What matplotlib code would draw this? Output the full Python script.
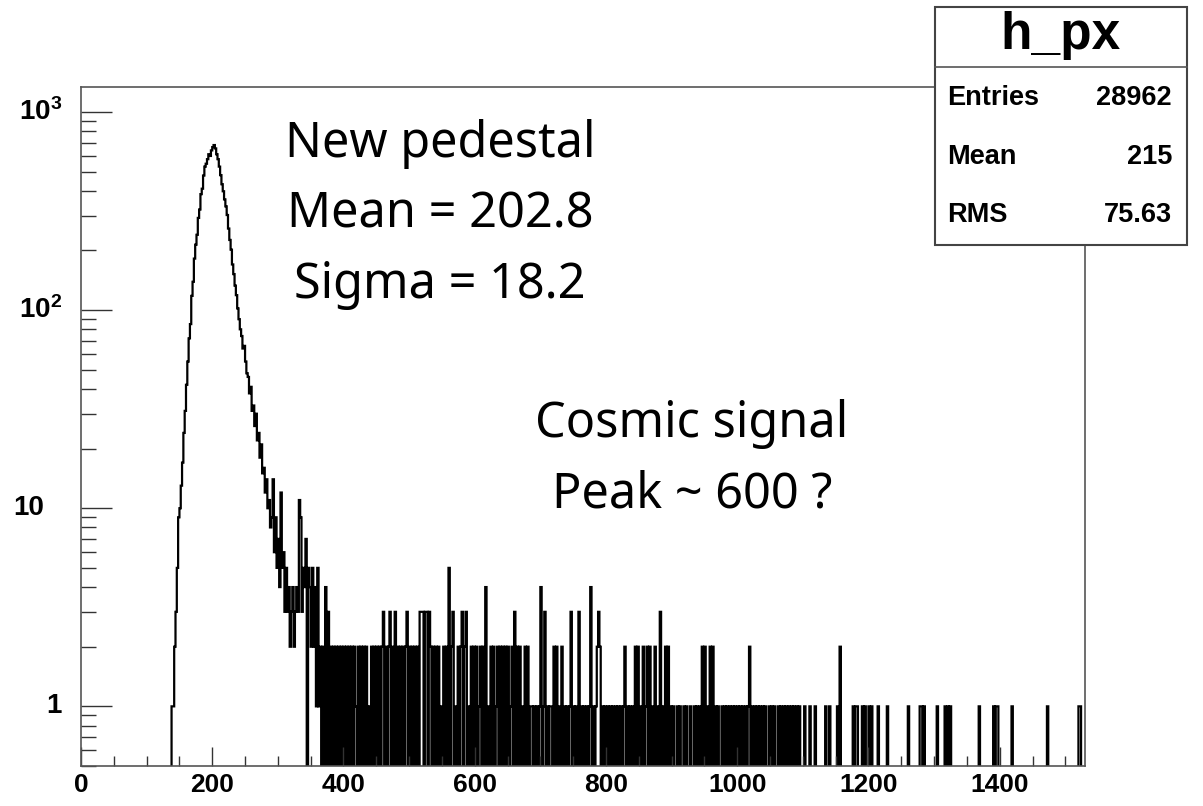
import numpy as np
import matplotlib
matplotlib.use('Agg')
import matplotlib.pyplot as plt
from matplotlib.patches import Rectangle
from matplotlib.ticker import MultipleLocator, LogLocator, NullFormatter
import matplotlib.transforms as mtransforms

plt.rcParams['mathtext.fontset'] = 'custom'
plt.rcParams['mathtext.rm'] = 'Liberation Sans'
plt.rcParams['mathtext.bf'] = 'Liberation Sans:bold'

# histogram h_px, 2-unit bins from 0 to 1530
bin_width = 2
x_max = 1530

# pedestal peak, bins 138 .. 318
peak_start = 138
peak_counts = [
    1, 1, 2, 3, 5, 9, 10, 13, 17, 24,
    31, 42, 55, 72, 85, 118, 139, 182, 214, 240,
    292, 322, 385, 410, 478, 530, 548, 578, 612, 600,
    640, 665, 681, 655, 612, 578, 530, 480, 432, 398,
    362, 334, 302, 258, 226, 202, 170, 152, 133, 119,
    102, 90, 80, 74, 64, 66, 55, 48, 46, 38,
    41, 31, 33, 26, 30, 22, 24, 18, 21, 15,
    16, 12, 14, 10, 11, 8, 9, 14, 6, 9,
    5, 7, 4, 12, 5, 6, 3, 5, 3, 4,
    2,
]

# dense tail, bins 320 .. 1118 (one row = 40 units)
tail_start = 320
tail_counts = [
    3, 4, 2, 3, 4, 3, 11, 9, 3, 5, 4, 7, 0, 5, 4, 2, 5, 2, 4, 1,
    5, 1, 2, 0, 2, 0, 4, 0, 3, 0, 2, 0, 2, 0, 2, 0, 2, 0, 2, 0,
    2, 0, 2, 0, 2, 0, 2, 0, 2, 1, 0, 2, 0, 2, 0, 2, 0, 2, 0, 1,
    0, 2, 0, 2, 0, 2, 0, 2, 0, 2, 3, 0, 2, 0, 2, 3, 0, 2, 0, 3,
    0, 2, 0, 2, 0, 2, 0, 2, 3, 0, 2, 0, 2, 0, 2, 0, 2, 0, 3, 3,
    3, 0, 3, 3, 0, 3, 2, 0, 2, 0, 2, 0, 2, 0, 1, 0, 2, 0, 2, 0,
    5, 0, 2, 3, 0, 1, 0, 2, 0, 2, 3, 0, 2, 3, 0, 1, 0, 2, 0, 2,
    0, 2, 0, 1, 2, 0, 2, 0, 4, 0, 1, 0, 2, 0, 2, 0, 1, 2, 0, 2,
    0, 2, 0, 2, 0, 2, 0, 1, 2, 0, 3, 0, 2, 0, 2, 0, 1, 0, 2, 0,
    2, 0, 1, 1, 0, 1, 0, 1, 0, 1, 4, 0, 1, 3, 0, 1, 0, 1, 1, 0,
    2, 0, 2, 0, 1, 0, 2, 0, 1, 0, 1, 0, 1, 3, 0, 1, 0, 1, 0, 3,
    0, 1, 0, 1, 0, 1, 0, 1, 4, 0, 1, 0, 1, 2, 3, 2, 0, 1, 0, 1,
    0, 1, 0, 1, 0, 1, 0, 1, 0, 1, 0, 1, 0, 1, 2, 0, 1, 0, 1, 0,
    1, 0, 2, 0, 2, 0, 1, 0, 2, 0, 1, 2, 0, 2, 0, 1, 0, 2, 0, 1,
    0, 3, 0, 1, 0, 2, 0, 2, 0, 1, 0, 1, 0, 0, 1, 0, 1, 0, 0, 1,
    0, 1, 0, 0, 1, 0, 0, 1, 0, 1, 0, 1, 0, 2, 0, 2, 0, 1, 0, 2,
    0, 2, 0, 1, 0, 1, 0, 0, 1, 0, 1, 0, 1, 0, 1, 0, 1, 0, 1, 0,
    1, 0, 1, 0, 1, 0, 1, 0, 1, 2, 0, 1, 0, 1, 0, 1, 0, 1, 0, 1,
    0, 1, 0, 0, 1, 0, 1, 0, 1, 0, 0, 1, 0, 1, 0, 1, 0, 1, 0, 1,
    0, 1, 0, 1, 0, 1, 0, 1, 0, 0, 0, 1, 0, 0, 0, 1, 0, 0, 0, 1,
]

# sparse far tail: bin start and count
far_tail_x = [1134, 1140, 1152, 1156, 1176, 1180, 1182, 1190, 1194, 1200,
              1204, 1214, 1228, 1260, 1278, 1280, 1284, 1304, 1316, 1320,
              1324, 1368, 1390, 1394, 1396, 1418, 1472, 1520, 1522]
far_tail_n = [1, 1, 1, 2, 1, 1, 1, 1, 1, 1,
              1, 1, 1, 1, 1, 1, 1, 1, 1, 1,
              1, 1, 1, 1, 1, 1, 1, 1, 1]

x_ticks = [0, 200, 400, 600, 800, 1000, 1200, 1400]
y_ticks = [1, 10, 100, 1000]
y_tick_labels = ['1', '10', r'$\mathbf{10^{2}}$', r'$\mathbf{10^{3}}$']

hist_name = 'h_px'
stats_names = ['Entries', 'Mean', 'RMS']
stats_values = ['28962', '215', '75.63']

notes_left = ['New pedestal', 'Mean = 202.8', 'Sigma = 18.2']
notes_right = ['Cosmic signal', 'Peak ~ 600 ?']

# build the histogram
edges = np.arange(0, x_max + bin_width, bin_width)
counts = np.zeros(len(edges) - 1)
i0 = peak_start // bin_width
counts[i0:i0 + len(peak_counts)] = peak_counts
i1 = tail_start // bin_width
counts[i1:i1 + len(tail_counts)] = tail_counts
for x, n in zip(far_tail_x, far_tail_n):
    counts[x // bin_width] = n
# empty bins drop below the frame, as ROOT draws them
draw_counts = np.where(counts > 0, counts, 0.05)

fig = plt.figure(figsize=(12.03, 8.06), dpi=100)
ax = fig.add_axes([81 / 1203, 40 / 806, 1004 / 1203, 679 / 806])
ax.stairs(draw_counts, edges, color='black', lw=1.6, baseline=None)

ax.set_yscale('log')
ax.set_xlim(0, x_max)
ax.set_ylim(0.5, 1337)

ax.set_xticks(x_ticks)
ax.set_xticklabels([str(v) for v in x_ticks], fontfamily='Liberation Sans',
                   fontweight='bold', fontsize=19)
ax.xaxis.set_minor_locator(MultipleLocator(50))
ax.set_yticks(y_ticks)
ax.set_yticklabels([])
ax.yaxis.set_minor_locator(LogLocator(base=10, subs=np.arange(2, 10)))
ax.yaxis.set_minor_formatter(NullFormatter())

ax.tick_params(axis='x', which='major', direction='in', length=14, width=1, pad=5, color='#333')
ax.tick_params(axis='x', which='minor', direction='in', length=7, width=1, color='#333')
ax.tick_params(axis='y', which='major', direction='in', length=22, width=1, color='#333')
ax.tick_params(axis='y', which='minor', direction='in', length=11, width=1, color='#333')
for s in ax.spines.values():
    s.set_color('#555')
    s.set_linewidth(1.2)

trans = mtransforms.blended_transform_factory(ax.transAxes, ax.transData)
label_right = [62, 44, 62, 62]
for v, lab, xr in zip(y_ticks, y_tick_labels, label_right):
    ax.text((xr - 81) / 1004, v, lab, transform=trans, ha='right', va='center',
            fontfamily='Liberation Sans', fontweight='bold', fontsize=20)

# stats box
bx0, bx1 = 935 / 1203, 1187 / 1203
by0, by1 = 1 - 245 / 806, 1 - 7 / 806
ydiv = 1 - 67 / 806
fig.patches.append(Rectangle((bx0, by0), bx1 - bx0, by1 - by0, transform=fig.transFigure,
                             facecolor='white', edgecolor='#444', lw=1.5, zorder=5))
fig.lines.append(plt.Line2D([bx0, bx1], [ydiv, ydiv], transform=fig.transFigure,
                            color='#555', lw=1.2, zorder=6))
fig.text((bx0 + bx1) / 2, 1 - 36 / 806, hist_name, ha='center', va='center',
         fontfamily='Liberation Sans', fontweight='bold', fontsize=37, zorder=7)
row_y = [98, 157, 215]
for name, val, yy in zip(stats_names, stats_values, row_y):
    fig.text(947 / 1203, 1 - yy / 806, name, ha='left', va='center',
             fontfamily='Liberation Sans', fontweight='bold', fontsize=19.5, zorder=7)
    fig.text(1172 / 1203, 1 - yy / 806, val, ha='right', va='center',
             fontfamily='Liberation Sans', fontweight='bold', fontsize=19.5, zorder=7)

# annotations
for txt, base in zip(notes_left, [157, 228, 298]):
    fig.text(440 / 1203, 1 - base / 806, txt, ha='center', va='baseline',
             fontfamily='Noto Sans', fontsize=35)
for txt, base in zip(notes_right, [437, 508]):
    fig.text(692 / 1203, 1 - base / 806, txt, ha='center', va='baseline',
             fontfamily='Noto Sans', fontsize=35)

fig.savefig('out.png', dpi=100)
